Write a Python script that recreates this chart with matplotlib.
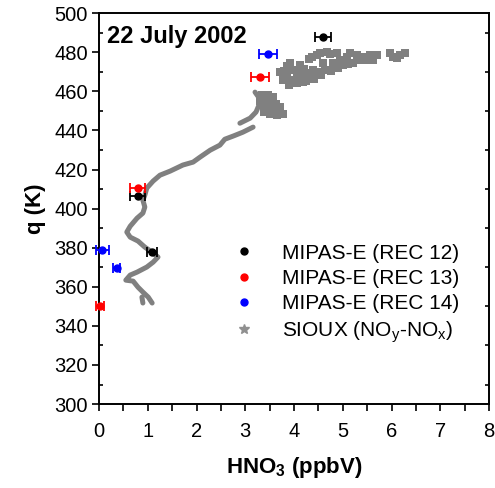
import numpy as np
import matplotlib
matplotlib.use("Agg")
from matplotlib import pyplot as plt
from matplotlib.ticker import MultipleLocator
from matplotlib.lines import Line2D

plt.rcParams['font.family'] = ['Liberation Sans', 'DejaVu Sans']
plt.rcParams['mathtext.fontset'] = 'custom'
plt.rcParams['mathtext.rm'] = 'Liberation Sans'
plt.rcParams['mathtext.bf'] = 'Liberation Sans:bold'

# MIPAS-E retrievals: HNO3 (ppbV), theta (K), x error
rec12_x = [4.59, 0.79, 1.09]
rec12_y = [487.9, 406.4, 377.9]
rec12_err = [0.17, 0.15, 0.10]

rec13_x = [3.30, 0.79, 0.02]
rec13_y = [467.4, 410.3, 350.1]
rec13_err = [0.18, 0.15, 0.08]

rec14_x = [3.47, 0.07, 0.36]
rec14_y = [479.0, 378.6, 369.4]
rec14_err = [0.19, 0.13, 0.08]

# SIOUX NOy-NOx track (nan = gap)
band_x = [1.09, 1.01, 0.90, 0.80, 0.70, 0.55, 0.64, 0.78, 0.98, 1.11, 1.21, 1.09, 0.94,
          0.80, 0.64, 0.57, 0.64, 0.78, 0.90, 0.94, 0.90, 0.94, 0.98, 1.11, 1.25, 1.46,
          1.72, 1.93, 2.07, 2.28, 2.48, 2.58, 2.75, 2.95, 3.16, np.nan,
          0.88, 0.90, np.nan,
          2.89, 3.10, 3.22, 3.28, np.nan,
          3.20, 3.26]
band_y = [351.7, 354.7, 357.3, 359.8, 362.9, 363.4, 366.0, 367.5, 370.1, 372.6, 375.2, 377.7, 380.3,
          383.4, 385.4, 388.0, 391.0, 395.1, 397.7, 400.8, 404.3, 406.9, 410.5, 414.1, 417.1, 419.2,
          422.3, 423.8, 426.3, 429.9, 432.5, 435.5, 437.1, 439.1, 441.7, np.nan,
          354.7, 351.7, np.nan,
          443.7, 446.3, 449.4, 452.9, np.nan,
          459.6, 457.5]

# SIOUX clusters near 450 K and 465-480 K
blob_x = [3.34, 3.47, 3.38, 3.51, 3.63, 3.34, 3.47, 3.59, 3.71, 3.38, 3.51, 3.65, 3.77,
          3.71, 3.77, 3.86, 3.92, 3.98, 4.06, 4.12, 4.18, 4.27, 4.33, 4.39, 4.47, 4.47,
          4.59, 4.68, 4.80, 4.88, 5.01, 5.09, 5.15, 5.21, 5.29, 5.35, 5.42, 5.56, 5.70,
          5.97, 6.11, 6.17, 4.37, 4.53, 4.74, 4.94, 4.90, 4.64, 4.12, 3.92, 4.06, 6.28,
          3.80, 3.85, 4.00, 4.20, 4.10, 4.25, 4.40, 4.55, 4.75, 4.85, 5.10, 5.30, 5.50,
          3.90, 4.30, 3.42, 3.56, 3.30, 3.72, 5.62, 6.02]
blob_y = [458.1, 458.1, 455.5, 455.5, 453.5, 452.9, 452.4, 450.4, 449.4, 449.4, 448.3, 447.8, 448.3,
          469.8, 465.7, 467.3, 474.4, 465.7, 469.3, 473.4, 464.7, 469.3, 467.3, 470.8, 478.5, 469.8,
          474.4, 480.0, 474.4, 479.5, 473.4, 477.5, 479.5, 474.4, 478.5, 476.0, 477.5, 478.5, 478.5,
          479.5, 477.0, 478.5, 477.5, 479.5, 479.0, 476.0, 471.9, 470.8, 466.8, 470.8, 464.2, 479.5,
          470.5, 473.0, 471.0, 471.5, 468.5, 465.5, 466.5, 468.5, 470.5, 472.0, 474.0, 476.5, 476.0,
          463.5, 476.5, 451.0, 457.0, 455.0, 452.0, 476.0, 477.5]

fig = plt.figure(figsize=(4.95, 4.88), dpi=100)
ax = fig.add_axes([0.2, 0.172, 0.788, 0.801])

grey = '#808080'
ax.plot(band_x, band_y, color=grey, lw=3.6, solid_capstyle='round', solid_joinstyle='round', zorder=2)
ax.scatter(blob_x, blob_y, s=30, marker='s', color=grey, linewidths=0, zorder=2)

for xs, ys, es, col in [(rec12_x, rec12_y, rec12_err, 'black'),
                        (rec13_x, rec13_y, rec13_err, 'red'),
                        (rec14_x, rec14_y, rec14_err, 'blue')]:
    ax.errorbar(xs, ys, xerr=es, fmt='o', color=col, ms=5, capsize=3.5, elinewidth=1.3,
                capthick=1.3, clip_on=False, zorder=4)

ax.set_xlim(0, 8)
ax.set_ylim(300, 500)
ax.xaxis.set_major_locator(MultipleLocator(1))
ax.xaxis.set_minor_locator(MultipleLocator(0.5))
ax.yaxis.set_major_locator(MultipleLocator(20))
ax.yaxis.set_minor_locator(MultipleLocator(10))
ax.tick_params(axis='x', which='both', direction='out', length=5, width=1.2, labelsize=14.5, pad=8)
ax.tick_params(axis='y', which='major', direction='out', length=5, width=1.2, labelsize=14.5, pad=3)
ax.tick_params(axis='y', which='minor', direction='in', length=3, width=1.2, right=True)
for s in ax.spines.values():
    s.set_linewidth(1.4)

ax.set_xlabel('HNO$_\\mathbf{3}$ (ppbV)', fontsize=16, fontweight='bold', labelpad=10)
ax.set_ylabel('q (K)', fontsize=16, fontweight='bold', labelpad=6)
ax.text(0.02, 0.94, '22 July 2002', transform=ax.transAxes, fontsize=17, fontweight='bold', va='center')

handles = [Line2D([], [], marker='o', ls='', color='black', ms=5),
           Line2D([], [], marker='o', ls='', color='red', ms=5),
           Line2D([], [], marker='o', ls='', color='blue', ms=5),
           Line2D([], [], marker='*', ls='', color='#909090', ms=7)]
labels = ['MIPAS-E (REC 12)', 'MIPAS-E (REC 13)', 'MIPAS-E (REC 14)',
          'SIOUX (NO$_\\mathrm{y}$-NO$_\\mathrm{x}$)']
ax.legend(handles, labels, loc='upper left', bbox_to_anchor=(0.271, 0.458),
          frameon=False, fontsize=15, handletextpad=0.8, labelspacing=0.3, handlelength=2.0)

fig.savefig('out.png', dpi=100)
